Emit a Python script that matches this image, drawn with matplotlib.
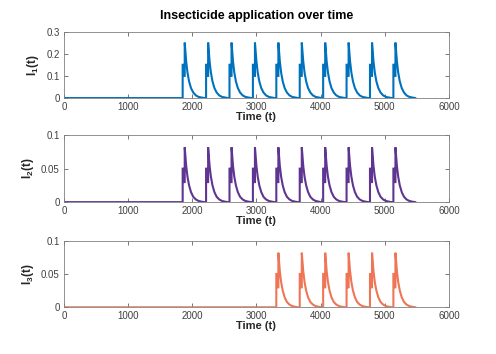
import numpy as np
import matplotlib
matplotlib.use("Agg")
import matplotlib.pyplot as plt

plt.rcParams['font.family'] = ['Liberation Sans', 'DejaVu Sans']
plt.rcParams['mathtext.fontset'] = 'custom'
plt.rcParams['mathtext.bf'] = 'Liberation Sans:bold'
plt.rcParams['mathtext.rm'] = 'Liberation Sans'

# Data
t_end = 5475
pulse_starts_12 = [1850, 2215, 2580, 2945, 3310, 3675, 4040, 4405, 4770, 5135]
pulse_starts_3 = [3310, 3675, 4040, 4405, 4770, 5135]
# pulse profile: offset (days) after application start, and relative level
profile_offsets = [0, 0, 15, 15, 32, 32, 40, 55, 75, 100, 130, 165, 205, 250, 300, 340]
profile_I1 = [0, 0.15, 0.15, 0.10, 0.10, 0.25, 0.22, 0.165, 0.115, 0.075, 0.045, 0.025, 0.012, 0.005, 0.002, 0.0]
profile_I2 = [0, 0.05, 0.05, 0.03, 0.03, 0.082, 0.072, 0.054, 0.038, 0.025, 0.015, 0.008, 0.004, 0.0017, 0.0006, 0.0]
profile_I3 = [0, 0.05, 0.05, 0.03, 0.03, 0.082, 0.072, 0.054, 0.038, 0.025, 0.015, 0.008, 0.004, 0.0017, 0.0006, 0.0]

colors = ['#0072BD', '#5E3590', '#EE7656']
ylims = [(0, 0.3), (0, 0.1), (0, 0.1)]
yticks = [[0, 0.1, 0.2, 0.3], [0, 0.05, 0.1], [0, 0.05, 0.1]]
ylabels = [r'$\mathbf{I_1(t)}$', r'$\mathbf{I_2(t)}$', r'$\mathbf{I_3(t)}$']


def build_series(starts, offsets, levels):
    ts = [0.0]
    ys = [0.0]
    for s in starts:
        ts.append(s)
        ys.append(0.0)
        for o, v in zip(offsets, levels):
            ts.append(s + o)
            ys.append(v)
    ts.append(t_end)
    ys.append(0.0)
    return ts, ys


series = [build_series(pulse_starts_12, profile_offsets, profile_I1),
          build_series(pulse_starts_12, profile_offsets, profile_I2),
          build_series(pulse_starts_3, profile_offsets, profile_I3)]

fig = plt.figure(figsize=(4.96, 3.54), dpi=100)
positions = [(0.129, 0.723, 0.776, 0.188),
             (0.129, 0.429, 0.776, 0.189),
             (0.129, 0.132, 0.776, 0.188)]

for i in range(3):
    ax = fig.add_axes(positions[i])
    ts, ys = series[i]
    ax.plot(ts, ys, color=colors[i], lw=1.5, solid_joinstyle='miter')
    ax.set_xlim(0, 6000)
    ax.set_ylim(*ylims[i])
    ax.set_xticks([0, 1000, 2000, 3000, 4000, 5000, 6000])
    ax.set_yticks(yticks[i])
    ax.set_yticklabels([f'{v:g}' for v in yticks[i]])
    ax.tick_params(direction='in', top=True, right=True, length=3, width=0.5,
                   labelsize=7, colors='#404040', pad=3, labelcolor='#404040')
    for sp in ax.spines.values():
        sp.set_linewidth(0.6)
        sp.set_color('#808080')
    ax.set_xlabel('Time (t)', fontsize=8, fontweight='bold', labelpad=0, color='#262626')
    ax.set_ylabel(ylabels[i], fontsize=8.5, labelpad=4, color='#262626')
    if i == 0:
        ax.set_title('Insecticide application over time', fontsize=9,
                     fontweight='bold', pad=9)

fig.savefig('out.png', dpi=100)
